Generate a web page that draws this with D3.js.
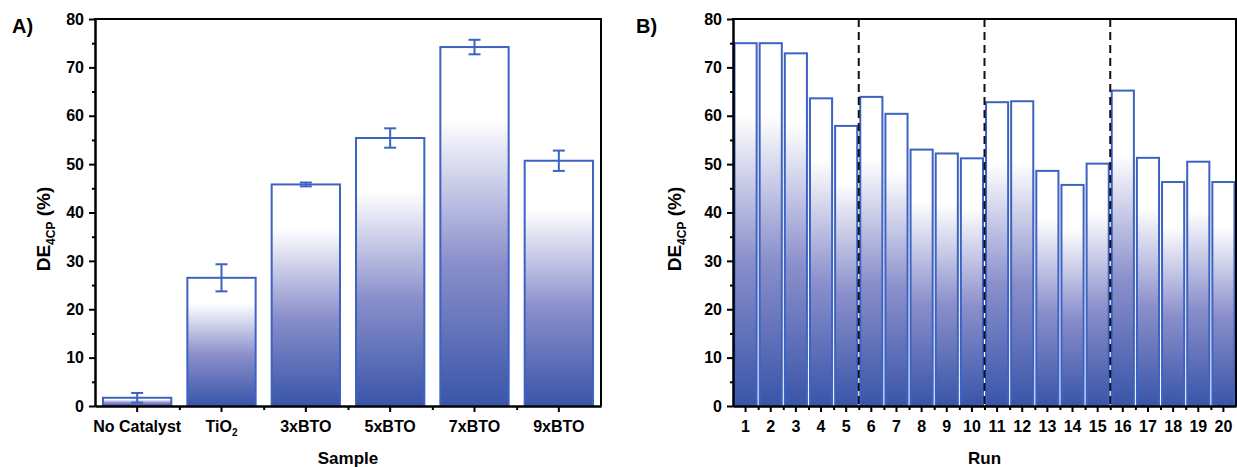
<!DOCTYPE html>
<html>
<head>
<meta charset="utf-8">
<script src="https://cdn.jsdelivr.net/npm/d3@7"></script>
<style>
  body { margin: 0; background: #fff; }
  svg { font-family: "Liberation Sans", Arial, sans-serif; font-weight: bold; }
  .axis path, .axis line { stroke: #000; stroke-width: 2; }
  .axis text { font-size: 16px; font-weight: bold; fill: #000; font-family: "Liberation Sans", Arial, sans-serif; }
</style>
</head>
<body>
<svg width="1237" height="467"></svg>
<script>
// Panel A: degradation efficiency per sample (mean and error)
var samples = ["No Catalyst", "TiO2", "3xBTO", "5xBTO", "7xBTO", "9xBTO"];
var sampleDE = [1.7, 26.5, 45.8, 55.4, 74.2, 50.7];
var sampleErr = [1.0, 2.8, 0.4, 2.0, 1.5, 2.1];

// Panel B: recycling runs
var runs = [1, 2, 3, 4, 5, 6, 7, 8, 9, 10, 11, 12, 13, 14, 15, 16, 17, 18, 19, 20];
var runDE = [75.0, 75.0, 72.9, 63.6, 57.9, 63.9, 60.4, 53.0, 52.2, 51.2,
             62.8, 63.0, 48.6, 45.7, 50.1, 65.2, 51.3, 46.3, 50.5, 46.3];
var runBreaks = [5, 10, 15];   // dashed separators after these runs

var yTicks = [0, 10, 20, 30, 40, 50, 60, 70, 80];
var yMinor = [5, 15, 25, 35, 45, 55, 65, 75];

var barStroke = "#3d62c2";

var svg = d3.select("svg");

var defs = svg.append("defs");
var grad = defs.append("linearGradient")
    .attr("id", "barFill")
    .attr("x1", 0).attr("y1", 1).attr("x2", 0).attr("y2", 0);
grad.append("stop").attr("offset", "0%").attr("stop-color", "#3955a8");
grad.append("stop").attr("offset", "40%").attr("stop-color", "#8a8fcb");
grad.append("stop").attr("offset", "80%").attr("stop-color", "#ffffff");
grad.append("stop").attr("offset", "100%").attr("stop-color", "#ffffff");

var plotTop = 19, plotBottom = 406;

/*
draws the box, y axis with minor ticks and the titles for one panel
*/
function frame(g, x0, x1, yScale, titleX, letter, letterX, xTitle) {
    g.append("g")
        .attr("class", "axis")
        .attr("transform", "translate(" + x0 + ",0)")
        .call(d3.axisLeft(yScale).tickValues(yMinor).tickSize(3).tickFormat("").tickSizeOuter(0));
    g.append("g")
        .attr("class", "axis")
        .attr("transform", "translate(" + x0 + ",0)")
        .call(d3.axisLeft(yScale).tickValues(yTicks).tickSize(6).tickPadding(5).tickSizeOuter(0));

    // top and right border
    g.append("line").attr("x1", x0 - 1).attr("x2", x1 + 1).attr("y1", plotTop).attr("y2", plotTop)
        .attr("stroke", "#000").attr("stroke-width", 2);
    g.append("line").attr("x1", x1).attr("x2", x1).attr("y1", plotTop).attr("y2", plotBottom)
        .attr("stroke", "#000").attr("stroke-width", 2);

    var t = g.append("text")
        .attr("transform", "translate(" + titleX + "," + 229 + ") rotate(-90)")
        .attr("text-anchor", "middle")
        .style("font-size", "19px");
    t.append("tspan").text("DE");
    t.append("tspan").attr("dy", 5).style("font-size", "12px").text("4CP");
    t.append("tspan").attr("dy", -5).text(" (%)");

    g.append("text").attr("x", letterX).attr("y", 33)
        .style("font-size", "20px").text(letter);

    g.append("text").attr("x", (x0 + x1) / 2).attr("y", 464)
        .attr("text-anchor", "middle").style("font-size", "17px").text(xTitle);
}

function subscript(sel) {
    sel.each(function(d) {
        var m = /^(.*?)(\d)$/.exec(d);
        if (d === "TiO2" && m) {
            var t = d3.select(this).text(null);
            t.append("tspan").text(m[1]);
            t.append("tspan").attr("dy", "0.35em").style("font-size", "10px").text(m[2]);
        }
    });
}

// ---------------- Panel A ----------------
var gA = svg.append("g");
var xA = d3.scaleBand().domain(samples).range([95, 601]).paddingInner(0.19).paddingOuter(0.095);
var yA = d3.scaleLinear().domain([0, 80]).range([plotBottom, plotTop]);

gA.selectAll("rect.bar")
    .data(samples)
    .enter().append("rect")
    .attr("class", "bar")
    .attr("x", function(d) { return xA(d); })
    .attr("width", xA.bandwidth())
    .attr("y", function(d, i) { return yA(sampleDE[i]); })
    .attr("height", function(d, i) { return plotBottom - yA(sampleDE[i]); })
    .attr("fill", "url(#barFill)")
    .attr("stroke", barStroke)
    .attr("stroke-width", 2);

var err = gA.selectAll("g.err")
    .data(samples)
    .enter().append("g")
    .attr("class", "err")
    .attr("stroke", barStroke)
    .attr("stroke-width", 2);
err.append("line")
    .attr("x1", function(d) { return xA(d) + xA.bandwidth() / 2; })
    .attr("x2", function(d) { return xA(d) + xA.bandwidth() / 2; })
    .attr("y1", function(d, i) { return yA(sampleDE[i] + sampleErr[i]); })
    .attr("y2", function(d, i) { return yA(sampleDE[i] - sampleErr[i]); });
[1, -1].forEach(function(s) {
    err.append("line")
        .attr("x1", function(d) { return xA(d) + xA.bandwidth() / 2 - 6; })
        .attr("x2", function(d) { return xA(d) + xA.bandwidth() / 2 + 6; })
        .attr("y1", function(d, i) { return yA(sampleDE[i] + s * sampleErr[i]); })
        .attr("y2", function(d, i) { return yA(sampleDE[i] + s * sampleErr[i]); });
});

// minor x ticks at category boundaries
var stepA = xA.step();
gA.append("g")
    .attr("class", "axis")
    .attr("transform", "translate(0," + plotBottom + ")")
    .call(d3.axisBottom(d3.scaleLinear().domain([95, 601]).range([95, 601]))
        .tickValues(samples.slice(1).map(function(d) { return xA(d) - stepA * 0.095; }))
        .tickSize(4).tickFormat("").tickSizeOuter(0));
gA.append("g")
    .attr("class", "axis")
    .attr("transform", "translate(0," + plotBottom + ")")
    .call(d3.axisBottom(xA).tickSize(6).tickPadding(9).tickSizeOuter(0))
    .selectAll("text").call(subscript);

frame(gA, 95, 601, yA, 50, "A)", 12, "Sample");

// ---------------- Panel B ----------------
var gB = svg.append("g");
var xB = d3.scaleBand().domain(runs).range([733, 1236]).paddingInner(0.12).paddingOuter(0.06);
var yB = d3.scaleLinear().domain([0, 80]).range([plotBottom, plotTop]);

gB.selectAll("rect.bar")
    .data(runs)
    .enter().append("rect")
    .attr("class", "bar")
    .attr("x", function(d) { return xB(d); })
    .attr("width", xB.bandwidth())
    .attr("y", function(d, i) { return yB(runDE[i]); })
    .attr("height", function(d, i) { return plotBottom - yB(runDE[i]); })
    .attr("fill", "url(#barFill)")
    .attr("stroke", barStroke)
    .attr("stroke-width", 2);

var stepB = xB.step();
var boundaryB = function(r) { return xB(r) + xB.bandwidth() + stepB * 0.06; };

gB.selectAll("line.sep")
    .data(runBreaks)
    .enter().append("line")
    .attr("class", "sep")
    .attr("x1", boundaryB).attr("x2", boundaryB)
    .attr("y1", plotTop).attr("y2", plotBottom)
    .attr("stroke", "#111")
    .attr("stroke-width", 2)
    .attr("stroke-dasharray", "8,5");

gB.append("g")
    .attr("class", "axis")
    .attr("transform", "translate(0," + plotBottom + ")")
    .call(d3.axisBottom(d3.scaleLinear().domain([733, 1236]).range([733, 1236]))
        .tickValues(runs.slice(0, -1).map(boundaryB))
        .tickSize(4).tickFormat("").tickSizeOuter(0));
gB.append("g")
    .attr("class", "axis")
    .attr("transform", "translate(0," + plotBottom + ")")
    .call(d3.axisBottom(xB).tickSize(6).tickPadding(9).tickSizeOuter(0));

frame(gB, 733, 1236, yB, 681, "B)", 636, "Run");
</script>
</body>
</html>
